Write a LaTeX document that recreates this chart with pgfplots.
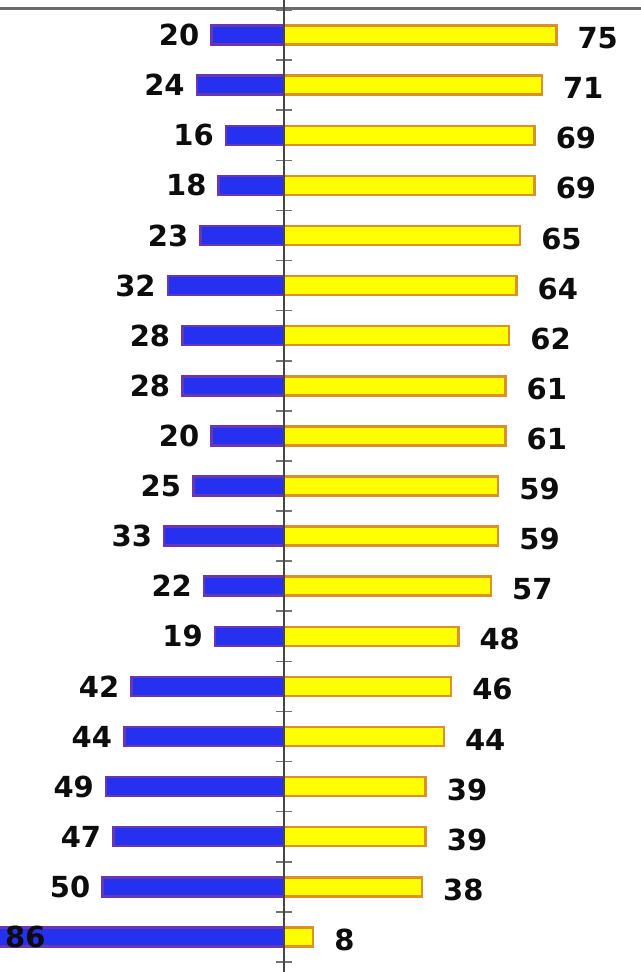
\documentclass[border=0pt]{standalone}
\usepackage{pgfplots}
\pgfplotsset{compat=1.18}
\usepackage{fontspec}
\setmainfont{DejaVu Sans}
\definecolor{barblue}{RGB}{38,48,240}
\definecolor{blueedge}{RGB}{105,55,175}
\definecolor{baryellow}{RGB}{255,255,0}
\definecolor{yellowedge}{RGB}{220,145,40}
\begin{document}
\begin{tikzpicture}
\begin{axis}[
  x=3.63pt, y=50.1pt, y dir=reverse,
  xmin=-78.24, xmax=98.07, ymin=0.30, ymax=19.70,
  axis x line=none, axis y line=center,
  every inner y axis line/.append style={-},
  y axis line style={draw=black!72, line width=2pt, -},
  ytick={0.5,1.5,...,19.5}, yticklabels={},
  major tick length=16pt,
  ytick style={draw=black!55, line width=1.6pt, xshift=8pt},
  axis on top, clip=false,
  xbar,
  nodes near coords, point meta=explicit symbolic,
  every node near coord/.append style={font=\fontsize{29}{30}\selectfont\bfseries, text=black!95, inner sep=0pt},
]
\addplot[xbar, bar shift=0pt, bar width=19pt, fill=barblue, draw=blueedge, line width=2.5pt,
  every node near coord/.append style={anchor=east, xshift=-11pt}]
coordinates {
(-20,1)[20] (-24,2)[24] (-16,3)[16] (-18,4)[18] (-23,5)[23] (-32,6)[32]
(-28,7)[28] (-28,8)[28] (-20,9)[20] (-25,10)[25] (-33,11)[33] (-22,12)[22]
(-19,13)[19] (-42,14)[42] (-44,15)[44] (-49,16)[49] (-47,17)[47] (-50,18)[50]
};
\addplot[xbar, bar shift=0pt, bar width=19pt, fill=barblue, draw=blueedge, line width=2.5pt,
  every node near coord/.append style={anchor=west, xshift=32pt}]
coordinates {(-86,19)[86]};
\addplot[xbar, bar shift=0pt, bar width=19pt, fill=baryellow, draw=yellowedge, line width=2.5pt,
  every node near coord/.append style={anchor=west, xshift=20pt, yshift=-3pt}]
coordinates {
(75,1)[75] (71,2)[71] (69,3)[69] (69,4)[69] (65,5)[65] (64,6)[64]
(62,7)[62] (61,8)[61] (61,9)[61] (59,10)[59] (59,11)[59] (57,12)[57]
(48,13)[48] (46,14)[46] (44,15)[44] (39,16)[39] (39,17)[39] (38,18)[38] (8,19)[8]
};
\draw[draw=black!58, line width=3pt] (axis cs:-100,0.46) -- (axis cs:120,0.46);
\end{axis}
\pgfresetboundingbox
\path[use as bounding box] (current axis.south west) rectangle (current axis.north east);
\end{tikzpicture}
\end{document}
